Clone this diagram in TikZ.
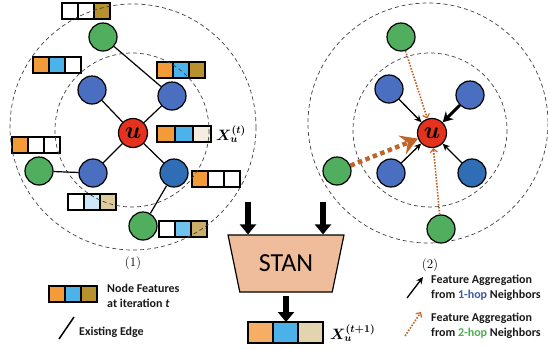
\RequirePackage{fix-cm}
\documentclass[tikz,border=0pt]{standalone}
\usepackage{amsmath,bm}
\usepackage{fontspec}
\newfontfamily\carlito{Carlito}
\usetikzlibrary{arrows.meta,shapes.geometric}
\definecolor{cgreen}{HTML}{52AE5F}
\definecolor{cblue}{HTML}{4A6FC0}
\definecolor{cdblue}{HTML}{2F6DB5}
\definecolor{cred}{HTML}{E5321F}
\definecolor{corange}{HTML}{F29B38}
\definecolor{ccyan}{HTML}{4BB3EA}
\definecolor{cgold}{HTML}{B8912F}
\definecolor{ccream}{HTML}{F5EEE0}
\definecolor{clblue}{HTML}{CDE8F8}
\definecolor{cltan}{HTML}{DDCB9E}
\definecolor{cmblue}{HTML}{71C3EF}
\definecolor{cmtan}{HTML}{C9AD68}
\definecolor{oorange}{HTML}{F5AE63}
\definecolor{ocyan}{HTML}{4BB1E8}
\definecolor{otan}{HTML}{E2D4AF}
\definecolor{cstan}{HTML}{F0BD9C}
\definecolor{cbrown}{HTML}{C0652A}
\definecolor{hopblue}{HTML}{3B5BA5}
\definecolor{hopgreen}{HTML}{4CAF50}
\newcommand\featbox[8]{%
  \node[cell,minimum width=#4pt,minimum height=#5pt,fill=#6] (#1a) at ({#2+0.5*#4},{#3+0.5*#5}) {};
  \node[cell,minimum width=#4pt,minimum height=#5pt,fill=#7] (#1b) at ({#2+1.5*#4},{#3+0.5*#5}) {};
  \node[cell,minimum width=#4pt,minimum height=#5pt,fill=#8] (#1c) at ({#2+2.5*#4},{#3+0.5*#5}) {};
}
\begin{document}
\begin{tikzpicture}[x=1pt,y=-1pt,
  gnode/.style={circle,draw,line width=1.2pt,fill=cgreen,minimum size=28pt,inner sep=0pt},
  bnode/.style={circle,draw,line width=1.2pt,fill=cblue,minimum size=28pt,inner sep=0pt},
  dbnode/.style={bnode,fill=cdblue},
  unode/.style={circle,draw,line width=1.2pt,fill=cred,minimum size=29pt,inner sep=0pt,font=\fontsize{24}{24}\selectfont},
  cell/.style={draw,line width=1.3pt,inner sep=0pt,outer sep=0pt},
  ring/.style={draw=black!75,dash pattern=on 4pt off 3pt,line width=0.7pt},
  edge/.style={line width=1.2pt},
  agg/.style={line width=1.3pt,-{Stealth[length=7pt,width=6.5pt]}},
  dotagg/.style={cbrown,line width=1.6pt,dash pattern=on 1.6pt off 1.4pt,-{Straight Barb[length=3.5pt,width=7pt,line width=1.2pt]}},
  bigarrow/.style={line width=5.5pt,-{Triangle[length=10pt,width=16pt]}},
  legtext/.style={font=\carlito\bfseries\fontsize{12}{15}\selectfont,anchor=west,align=left,inner sep=0pt,text=black!90},
  xlabel/.style={anchor=west,font=\fontsize{15}{15}\selectfont,inner sep=0pt},
]
\useasboundingbox (0,0) rectangle (548,349);
% ---------- left diagram ----------
\featbox{bxa}{62}{3}{16}{16}{white}{white}{cgold}
\featbox{bxb}{33}{57}{16}{16}{corange}{ccyan}{white}
\featbox{bxc}{157}{62}{16}{16}{corange}{ccyan}{cgold}
\featbox{bxd}{157}{126}{18}{16}{corange}{ccyan}{ccream}
\featbox{bxe}{12}{137}{16}{16}{corange}{white}{white}
\featbox{bxf}{192}{171}{16}{16}{corange}{white}{white}
\featbox{bxg}{68}{194}{16}{16}{white}{clblue}{cltan}
\featbox{bxh}{159}{221}{16}{16}{white}{cmblue}{cmtan}
\draw[ring] (133,127) circle[radius=123];
\draw[ring] (132,130) circle[radius=77];
\node[unode] (u1) at (133,133) {$\boldsymbol{u}$};
\node[bnode] (b1a) at (92,90) {};
\node[bnode] (b1b) at (172,96) {};
\node[bnode] (b1c) at (93,173) {};
\node[dbnode] (b1d) at (174,173) {};
\node[gnode] (g1a) at (103,37) {};
\node[gnode] (g1b) at (39,171) {};
\node[gnode] (g1c) at (143,226) {};
\draw[edge] (u1) -- (b1a);
\draw[edge] (u1) -- (b1b);
\draw[edge] (u1) -- (b1c);
\draw[edge] (u1) -- (b1d);
\draw[edge] (g1a) -- (b1b);
\draw[edge] (g1b) -- (b1c);
\draw[edge] (g1c) -- (b1d);
\node[xlabel] (xt) at (216,134) {$\boldsymbol{X_u^{(t)}}$};
\node[font=\fontsize{13}{13}\selectfont] (lab1) at (133,263) {(1)};
% ---------- right diagram ----------
\draw[ring] (428,123) circle[radius=120];
\draw[ring] (430,130) circle[radius=77];
\node[unode] (u2) at (432,133) {$\boldsymbol{u}$};
\node[bnode] (b2a) at (389,89) {};
\node[bnode] (b2b) at (470,95) {};
\node[bnode] (b2c) at (391,173) {};
\node[dbnode] (b2d) at (472,173) {};
\node[gnode] (g2a) at (401,37) {};
\node[gnode] (g2b) at (337,171) {};
\node[gnode] (g2c) at (441,229) {};
\draw[agg] (b2a) -- (u2);
\draw[agg] (b2c) -- (u2);
\draw[agg] (b2d) -- (u2);
\draw[line width=3pt,-{Stealth[length=10pt,width=11pt]}] (b2b) -- (u2);
\draw[dotagg] (g2a) -- (u2);
\draw[dotagg] (g2c) -- (u2);
\draw[cbrown,line width=4.5pt,dash pattern=on 4.5pt off 3.5pt,-{Stealth[length=17pt,width=20pt,inset=6pt]}] (g2b) -- (u2);
\node[font=\fontsize{13}{13}\selectfont] (lab2) at (430,265) {(2)};
% ---------- STAN ----------
\node[trapezium,trapezium angle=68,shape border rotate=180,trapezium stretches=true,
      minimum width=116pt,minimum height=57pt,inner sep=0pt,draw,line width=1.2pt,fill=cstan,
      font=\carlito\fontsize{26}{26}\selectfont] (stan) at (286,263.5) {STAN};
\coordinate (in1) at (248,202);
\coordinate (in2) at (323,202);
\draw[bigarrow] (in1) -- (in1 |- stan.north);
\draw[bigarrow] (in2) -- (in2 |- stan.north);
\featbox{out}{248}{322}{25}{21}{oorange}{ocyan}{otan}
\coordinate (sout) at (286,296);
\draw[bigarrow] (sout) -- (sout |- outb.north);
\node[xlabel] (xt1) at (330,333) {$\boldsymbol{X_u^{(t+1)}}$};
% ---------- legends ----------
\featbox{lg}{49}{286}{16}{16}{corange}{ccyan}{cgold}
\node[legtext] (lgt) at (107,295.5) {Node Features\\at iteration \textit{t}};
\coordinate (e1) at (59,339);
\coordinate (e2) at (74,317);
\draw[line width=1.5pt] (e1) -- (e2);
\node[legtext] (let) at (79,332) {Existing Edge};
\coordinate (a1) at (407,298);
\coordinate (a2) at (423,277);
\draw[agg] (a1) -- (a2);
\node[legtext] (agt1) at (431,288) {Feature Aggregation\\from \textcolor{hopblue}{1-hop} Neighbors};
\coordinate (d1) at (405,336);
\coordinate (d2) at (421,312);
\draw[dotagg] (d1) -- (d2);
\node[legtext] (agt2) at (431,325.5) {Feature Aggregation\\from \textcolor{hopgreen}{2-hop} Neighbors};
\end{tikzpicture}
\end{document}
